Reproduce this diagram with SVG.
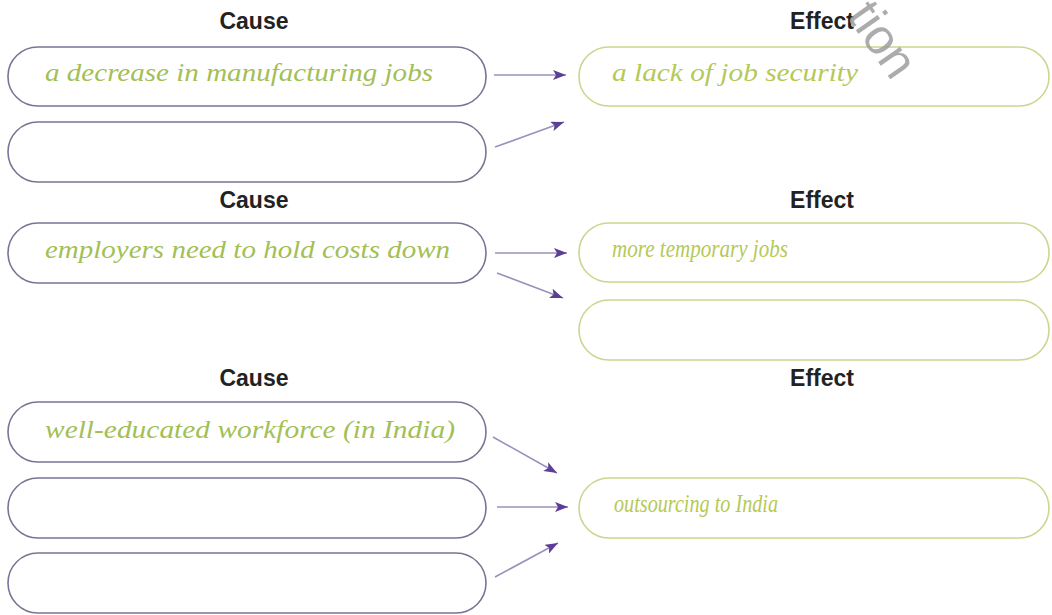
<svg xmlns="http://www.w3.org/2000/svg" width="1052" height="615" viewBox="0 0 1052 615">
  <style>
    .bg { fill: #ffffff; }
    .cause { fill: #ffffff; stroke: #7d7295; stroke-width: 1.6; }
    .effect { fill: #ffffff; stroke: #c9d78f; stroke-width: 1.6; }
    .label { font-family: "Liberation Sans", Arial, sans-serif; font-weight: bold; font-size: 23px; fill: #222222; text-anchor: middle; }
    .hand { font-family: "Liberation Serif", "DejaVu Serif", serif; font-style: italic; font-size: 25px; fill: #a3bf55; }
    .hand2 { font-family: "Liberation Serif", "DejaVu Serif", serif; font-style: italic; font-size: 25px; fill: #b5c957; }
    .conn { stroke: #9a90bd; stroke-width: 1.6; fill: none; marker-end: url(#arr); }
    .wm { font-family: "Liberation Sans", Arial, sans-serif; font-size: 50px; fill: #9e9e9e; opacity: 0.85; }
  </style>
  <defs>
    <marker id="arr" markerUnits="userSpaceOnUse" markerWidth="14" markerHeight="10" refX="13" refY="5" orient="auto">
      <path d="M0,0 L13,5 L0,10 L3,5 Z" fill="#5b3e96"/>
    </marker>
  </defs>
  <rect class="bg" x="0" y="0" width="1052" height="615"/>

  <!-- Row 1 -->
  <text class="label" x="254" y="29">Cause</text>
  <text class="label" x="822" y="29">Effect</text>
  <g id="cause1a">
    <rect class="cause" x="8" y="47" width="478" height="59" rx="30" ry="29"/>
    <text class="hand" x="45" y="81" textLength="388" lengthAdjust="spacingAndGlyphs">a decrease in manufacturing jobs</text>
  </g>
  <g id="cause1b">
    <rect class="cause" x="8" y="122" width="478" height="60" rx="30" ry="30"/>
  </g>
  <g id="effect1">
    <rect class="effect" x="579" y="47" width="470" height="59" rx="30" ry="29"/>
    <text class="hand2" x="612" y="81" textLength="246" lengthAdjust="spacingAndGlyphs">a lack of job security</text>
  </g>

  <!-- Row 2 -->
  <text class="label" x="254" y="208">Cause</text>
  <text class="label" x="822" y="208">Effect</text>
  <g id="cause2">
    <rect class="cause" x="8" y="223" width="478" height="60" rx="30" ry="30"/>
    <text class="hand" x="45" y="258" textLength="405" lengthAdjust="spacingAndGlyphs">employers need to hold costs down</text>
  </g>
  <g id="effect2a">
    <rect class="effect" x="579" y="223" width="470" height="59" rx="30" ry="29"/>
    <text class="hand2" x="612" y="257" font-size="21.5" textLength="176" lengthAdjust="spacingAndGlyphs">more temporary jobs</text>
  </g>
  <g id="effect2b">
    <rect class="effect" x="579" y="300" width="470" height="60" rx="30" ry="30"/>
  </g>

  <!-- Row 3 -->
  <text class="label" x="254" y="386">Cause</text>
  <text class="label" x="822" y="386">Effect</text>
  <g id="cause3a">
    <rect class="cause" x="8" y="402" width="478" height="60" rx="30" ry="30"/>
    <text class="hand" x="45" y="438" textLength="410" lengthAdjust="spacingAndGlyphs">well-educated workforce (in India)</text>
  </g>
  <g id="cause3b">
    <rect class="cause" x="8" y="478" width="478" height="60" rx="30" ry="30"/>
  </g>
  <g id="cause3c">
    <rect class="cause" x="8" y="553" width="478" height="60" rx="30" ry="30"/>
  </g>
  <g id="effect3">
    <rect class="effect" x="579" y="478" width="470" height="60" rx="30" ry="30"/>
    <text class="hand2" x="614" y="512" font-size="21" textLength="164" lengthAdjust="spacingAndGlyphs">outsourcing to India</text>
  </g>

  <!-- Connectors -->
  <g id="connectors">
    <line class="conn" x1="494" y1="75" x2="566" y2="75"/>
    <line class="conn" x1="495" y1="147" x2="564" y2="122"/>
    <line class="conn" x1="495" y1="253" x2="567" y2="253"/>
    <line class="conn" x1="497" y1="273" x2="563" y2="298"/>
    <line class="conn" x1="493" y1="437" x2="557" y2="473"/>
    <line class="conn" x1="497" y1="507" x2="568" y2="507"/>
    <line class="conn" x1="495" y1="577" x2="558" y2="543"/>
  </g>

  <!-- Watermark -->
  <text class="wm" transform="translate(846,16) rotate(55)" x="0" y="0">tion</text>
</svg>
